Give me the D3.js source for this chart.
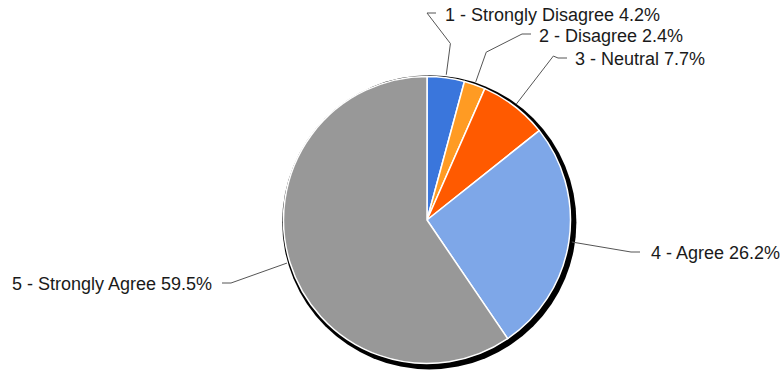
<!DOCTYPE html>
<html>
<head>
<meta charset="utf-8">
<script src="https://cdn.jsdelivr.net/npm/d3@7"></script>
<style>
  html, body { margin: 0; padding: 0; background: #fff; }
  svg { display: block; }
  text { font-family: "Liberation Sans", Arial, sans-serif; }
</style>
</head>
<body>
<svg id="chart" width="781" height="370"></svg>
<script>
// ---- data ----
const categories = ["1 - Strongly Disagree", "2 - Disagree", "3 - Neutral", "4 - Agree", "5 - Strongly Agree"];
const values = [4.2, 2.4, 7.7, 26.2, 59.5];
const colors = ["#3a76dc", "#ff9b23", "#ff5a00", "#7ea7e8", "#989898"];

// ---- layout (label placement only) ----
const cx = 427, cy = 220, R = 143.5;
const labelLayout = [
  { knee: 178, end: [427, 13], dir: 1,  tx: 445, ty: 21 },
  { knee: 178, end: [522, 34], dir: 1,  tx: 539, ty: 42 },
  { knee: 207, end: [558, 58], dir: 1,  tx: 575, ty: 65 },
  { knee: 205, end: [631, 252], dir: 1, tx: 651, ty: 259 },
  { knee: 200, end: [231, 283], dir: -1, tx: 212, ty: 290 }
];

const svg = d3.select("#chart");
const g = svg.append("g").attr("transform", `translate(${cx},${cy})`);

const pie = d3.pie().sort(null).value(d => d)(values);
const arc = d3.arc().innerRadius(0).outerRadius(R);

// shadow / outline
g.append("circle")
  .attr("cx", 2.3).attr("cy", 2.3).attr("r", R + 3.6)
  .attr("fill", "#000");

g.selectAll("path.slice")
  .data(pie)
  .join("path")
  .attr("class", "slice")
  .attr("d", arc)
  .attr("fill", (d, i) => colors[i])
  .attr("stroke", "#fff")
  .attr("stroke-width", 1.5)
  .attr("stroke-linejoin", "round");

pie.forEach((d, i) => {
  const L = labelLayout[i];
  const a = (d.startAngle + d.endAngle) / 2;
  const p0 = [cx + Math.sin(a) * (R + 3), cy - Math.cos(a) * (R + 3)];
  const p1 = [cx + Math.sin(a) * L.knee, cy - Math.cos(a) * L.knee];
  const p2 = L.end;
  const p3 = [p2[0] + 9 * L.dir, p2[1]];
  const pts = (i === 3 || i === 4) ? [p0, p2, p3] : [p0, p1, p2, p3];
  svg.append("path")
    .attr("d", d3.line()(pts))
    .attr("fill", "none")
    .attr("stroke", "#555")
    .attr("stroke-width", 1);
  svg.append("text")
    .attr("x", L.tx)
    .attr("y", L.ty)
    .attr("text-anchor", L.dir > 0 ? "start" : "end")
    .attr("font-size", 18)
    .attr("fill", "#1a1a1a")
    .text(`${categories[i]} ${d3.format(".1f")(values[i])}%`);
});
</script>
</body>
</html>
